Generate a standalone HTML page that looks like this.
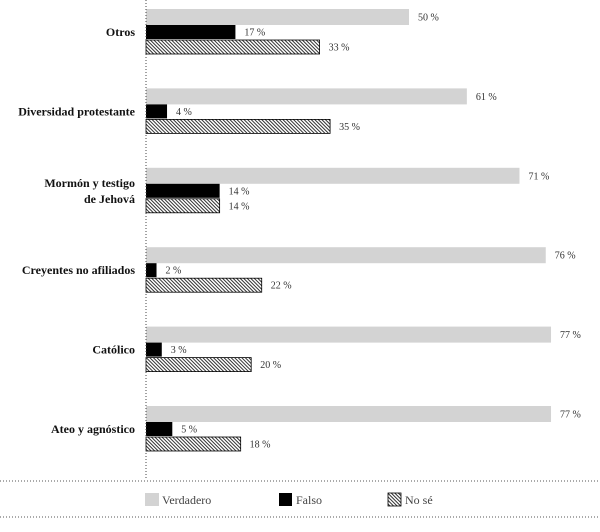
<!DOCTYPE html>
<html><head><meta charset="utf-8"><style>
body{margin:0;background:#fff;font-family:"Liberation Serif",serif;}
svg text{font-family:"Liberation Serif",serif;}
</style></head><body>
<svg width="600" height="527" xmlns="http://www.w3.org/2000/svg">
<defs>
<pattern id="hatch" width="2.5" height="2.5" patternUnits="userSpaceOnUse" patternTransform="rotate(-45)">
<rect width="2.5" height="2.5" fill="#fff"/><rect width="1" height="2.5" fill="#333"/>
</pattern>
</defs>
<g id="plot"></g>
<line x1="146" y1="0" x2="146" y2="480" stroke="#444" stroke-dasharray="1,2"/>
<line x1="0" y1="481" x2="600" y2="481" stroke="#555" stroke-dasharray="1,2"/>
<line x1="0" y1="517" x2="600" y2="517" stroke="#555" stroke-dasharray="1,2"/>
<g>
<rect x="145" y="493" width="14" height="13" fill="#d3d3d3"/>
<text x="162" y="504" font-size="12" fill="#444">Verdadero</text>
<rect x="279" y="493" width="13" height="13" fill="#000"/>
<text x="296" y="504" font-size="12" fill="#444">Falso</text>
<rect x="388" y="493" width="13" height="13" fill="url(#hatch)" stroke="#000" stroke-width="0.8"/>
<text x="405" y="504" font-size="12" fill="#444">No sé</text>
</g>
</svg>
<script>
const categories=[["Otros"],["Diversidad protestante"],["Mormón y testigo","de Jehová"],["Creyentes no afiliados"],["Católico"],["Ateo y agnóstico"]];
const verdadero=[50,61,71,76,77,77];
const falso=[17,4,14,2,3,5];
const noSe=[33,35,14,22,20,18];
const x0=146, pxPer=5.26, top0=9, groupStep=79.4;
const xs=v=>v*pxPer;
const g=document.getElementById('plot');
const NS="http://www.w3.org/2000/svg";
function mk(tag,attrs){const e=document.createElementNS(NS,tag);for(const k in attrs)e.setAttribute(k,attrs[k]);g.appendChild(e);return e;}
const series=[{vals:verdadero,fill:"#d3d3d3",y:0,h:16,name:"verdadero"},{vals:falso,fill:"#000",y:16,h:14,name:"falso"},{vals:noSe,fill:"url(#hatch)",y:31,h:14,name:"no-se",stroke:true}];
categories.forEach((lines,i)=>{
  const gy=top0+i*groupStep;
  series.forEach(s=>{
    const w=xs(s.vals[i]);
    const r=mk('rect',{x:x0,y:gy+s.y,width:w,height:s.h,fill:s.fill});
    if(s.stroke){r.setAttribute('stroke','#000');r.setAttribute('stroke-width','0.8');}
    
    
    const t=mk('text',{x:x0+w+9,y:gy+s.y+s.h/2+3.5,'font-size':10,fill:'#333'});
    t.textContent=s.vals[i]+' %';
    
    
  });
  const cy=gy+23;
  lines.forEach((ln,j)=>{
    const t=mk('text',{x:135,y:cy+4+(j-(lines.length-1)/2)*16,'font-size':12,'font-weight':'bold','text-anchor':'end',fill:'#111'});
    t.textContent=ln;
    
    
  });
});
</script>
</body></html>
